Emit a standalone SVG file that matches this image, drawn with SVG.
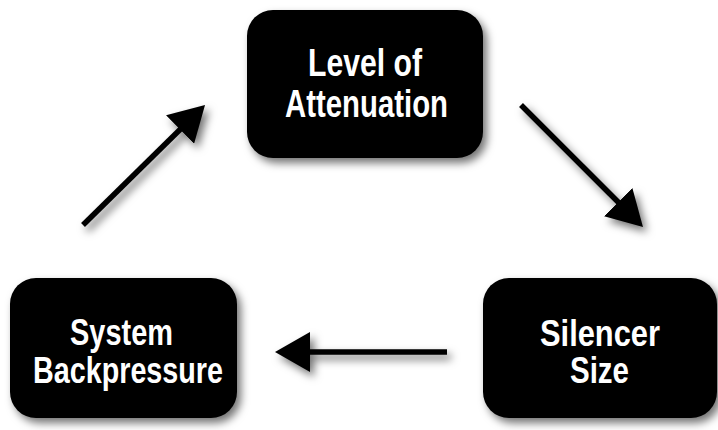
<svg xmlns="http://www.w3.org/2000/svg" width="718" height="430" viewBox="0 0 718 430">
<defs>
<filter id="sh" x="-20%" y="-20%" width="150%" height="150%">
<feDropShadow dx="4" dy="5" stdDeviation="4" flood-color="#000" flood-opacity="0.55"/>
</filter>
<filter id="sha" filterUnits="userSpaceOnUse" x="0" y="0" width="718" height="430">
<feDropShadow dx="4" dy="5" stdDeviation="4" flood-color="#000" flood-opacity="0.55"/>
</filter>
<marker id="ah" viewBox="0 0 35 40" refX="10" refY="20" markerWidth="35" markerHeight="40" markerUnits="userSpaceOnUse" orient="auto">
<polygon points="0,0 35,20 0,40" fill="#000"/>
</marker>
<style>
.box{fill:#000;filter:url(#sh)}
.lbl{fill:#fff;font-family:"Liberation Sans Narrow","Liberation Sans",Arial,sans-serif;font-weight:bold;text-anchor:middle}
.arr{stroke:#000;stroke-width:5.5;fill:none;marker-end:url(#ah);filter:url(#sha)}
</style>
</defs>
<rect width="718" height="430" fill="#fff"/>
<g id="connectors">
<line class="arr" x1="83" y1="225" x2="187.2" y2="122.5"/>
<line class="arr" x1="521" y1="105" x2="625.3" y2="209.3"/>
<line class="arr" x1="447" y1="352" x2="300" y2="352"/>
</g>
<g id="level">
<rect class="box" x="247" y="10" width="236" height="148" rx="26"/>
<text class="lbl" font-size="39" x="365" y="76" textLength="114" lengthAdjust="spacingAndGlyphs">Level of</text>
<text class="lbl" font-size="39" x="366.5" y="117" textLength="163" lengthAdjust="spacingAndGlyphs">Attenuation</text>
</g>
<g id="system">
<rect class="box" x="10" y="278" width="227" height="140" rx="26"/>
<text class="lbl" font-size="36" x="121.5" y="345" textLength="103" lengthAdjust="spacingAndGlyphs">System</text>
<text class="lbl" font-size="36" x="128" y="383" textLength="190" lengthAdjust="spacingAndGlyphs">Backpressure</text>
</g>
<g id="silencer">
<rect class="box" x="483" y="278" width="234" height="140" rx="26"/>
<text class="lbl" font-size="36" x="600" y="346" textLength="120" lengthAdjust="spacingAndGlyphs">Silencer</text>
<text class="lbl" font-size="36" x="599.5" y="383" textLength="59" lengthAdjust="spacingAndGlyphs">Size</text>
</g>
</svg>
